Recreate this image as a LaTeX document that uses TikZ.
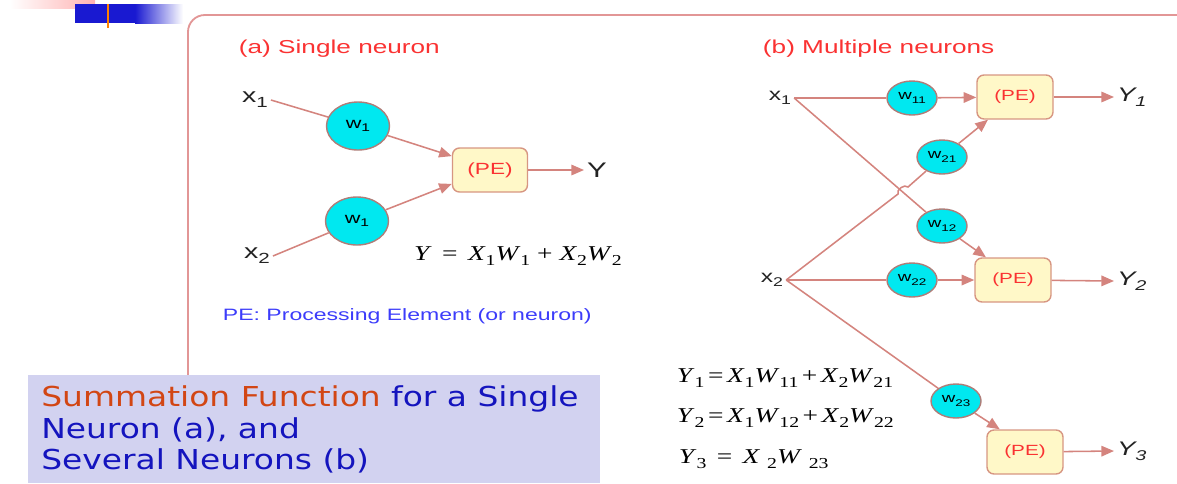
\documentclass[tikz,border=0pt]{standalone}
\usepackage{fontspec}
\setmainfont{Liberation Sans}[FakeStretch=1.4]
\newfontfamily\eqfont{Liberation Serif}[FakeStretch=1.3]
\newfontfamily\capfont{DejaVu Sans}[FakeStretch=1.2]
\usetikzlibrary{arrows.meta,shapes.geometric}

\definecolor{linkcol}{RGB}{212,132,126}
\definecolor{wfill}{RGB}{0,232,240}
\definecolor{wdraw}{RGB}{175,125,120}
\definecolor{pefill}{RGB}{255,248,200}
\definecolor{pedraw}{RGB}{215,150,130}
\definecolor{pered}{RGB}{250,50,50}
\definecolor{noteblue}{RGB}{60,60,250}
\definecolor{framecol}{RGB}{226,150,150}
\definecolor{capfill}{RGB}{210,210,240}
\definecolor{caporange}{RGB}{210,70,20}
\definecolor{capblue}{RGB}{20,20,190}
\definecolor{labcol}{RGB}{35,35,35}

\newcommand{\dn}[1]{\raisebox{-0.45ex}{\scalebox{0.72}{#1}}}
\newcommand{\ev}[2]{\textit{#1}\dn{#2}}

\begin{document}
\begin{tikzpicture}[x=0.025cm, y=-0.025cm,
    weight/.style={ellipse, draw=wdraw, line width=1pt, fill=wfill, inner sep=0pt,
        minimum width=1.25cm, minimum height=0.85cm, font=\fontsize{9.5}{11}\selectfont},
    bigweight/.style={weight, minimum width=1.575cm, minimum height=1.2cm,
        font=\fontsize{11}{13}\selectfont},
    pebox/.style={draw=pedraw, line width=1pt, fill=pefill, rounded corners=5pt,
        minimum width=1.9cm, minimum height=1.1cm, text=pered,
        font=\fontsize{10.5}{12}\selectfont},
    lab/.style={text=labcol, inner sep=2pt, font=\fontsize{12.5}{14}\selectfont},
    link/.style={draw=linkcol, line width=1.1pt},
    arc/.style={link, -{Triangle[length=9pt, width=7.5pt]}}]
    \useasboundingbox (0,0) rectangle (1177,483);

    % Slide decoration
    \shade[left color=white, right color=red!30] (10,0) rectangle (95,8);
    \fill[blue!80!black!90] (75,4) rectangle (135,23);
    \shade[left color=blue!80!black!90, right color=white] (135,4) rectangle (183,23);
    \draw[orange, line width=1.5pt] (108,4) -- (108,28);
    \draw[framecol, line width=1.3pt, rounded corners=12pt] (188,376) -- (188,15) -- (1190,15);

    % (a) single neuron
    \node[anchor=west, text=pered, font=\fontsize{13.3}{15}\selectfont] (titlea) at (234,49) {(a) Single neuron};
    \node[lab, font=\fontsize{14.5}{16}\selectfont] (xa1) at (255,100) {x\dn{1}};
    \node[lab, font=\fontsize{14.5}{16}\selectfont] (xa2) at (257,256) {x\dn{2}};
    \node[bigweight] (wa1) at (358,126) {w\dn{1}};
    \node[bigweight] (wa2) at (357,221) {w\dn{1}};
    \node[pebox, minimum width=1.875cm, font=\fontsize{11.5}{13}\selectfont] (pea) at (490,170) {(PE)};
    \node[lab, anchor=west, font=\fontsize{15}{17}\selectfont] (ya) at (584,170) {Y};

    \draw[link] (xa1.east) -- (wa1);
    \draw[link] (xa2.east) -- (wa2);
    \draw[arc] (wa1) -- (pea.160);
    \draw[arc] (wa2) -- (pea.200);
    \draw[arc] (pea) -- (ya.west);

    \node[font=\eqfont\fontsize{15}{17}\selectfont] (eqa) at (518,256)
        {\textit{Y} \,=\, \ev{X}{1}\ev{W}{1} + \ev{X}{2}\ev{W}{2}};
    \node[anchor=west, text=noteblue, font=\fontsize{11.7}{13}\selectfont] (note) at (218,316)
        {PE: Processing Element (or neuron)};

    % (b) multiple neurons
    \node[anchor=west, text=pered, font=\fontsize{13.3}{15}\selectfont] (titleb) at (758,49) {(b) Multiple neurons};
    \node[lab] (xb1) at (780,98) {x\dn{1}};
    \node[lab] (xb2) at (772,280) {x\dn{2}};
    \node[weight] (wb11) at (912,98) {w\dn{11}};
    \node[weight] (wb21) at (942,157) {w\dn{21}};
    \node[weight] (wb12) at (942,226) {w\dn{12}};
    \node[weight] (wb22) at (912,280) {w\dn{22}};
    \node[weight] (wb23) at (956,401) {w\dn{23}};
    \node[pebox] (pe1) at (1015,97) {(PE)};
    \node[pebox] (pe2) at (1013,280) {(PE)};
    \node[pebox] (pe3) at (1025,452) {(PE)};
    \node[lab, anchor=west, font=\fontsize{14}{16}\selectfont] (yb1) at (1114,97) {\textit{Y\dn{1}}};
    \node[lab, anchor=west, font=\fontsize{14}{16}\selectfont] (yb2) at (1114,281) {\textit{Y\dn{2}}};
    \node[lab, anchor=west, font=\fontsize{14}{16}\selectfont] (yb3) at (1114,451) {\textit{Y\dn{3}}};
    \coordinate (hopa) at (898,194);
    \coordinate (hopb) at (908,187);

    \draw[link] (xb1.east) -- (wb11);
    \draw[link] (xb1.east) -- (wb12);
    \draw[link] (xb2.east) -- (hopa) to[bend left=80] (hopb) -- (wb21);
    \draw[link] (xb2.east) -- (wb22);
    \draw[link] (xb2.east) -- (wb23);
    \draw[arc] (wb11) -- (pe1);
    \draw[arc] (wb21) -- (pe1.220);
    \draw[arc] (wb12) -- (pe2.140);
    \draw[arc] (wb22) -- (pe2);
    \draw[arc] (wb23) -- (pe3.138);
    \draw[arc] (pe1) -- (yb1.west);
    \draw[arc] (pe2) -- (yb2.west);
    \draw[arc] (pe3) -- (yb3.west);

    \node[anchor=west, font=\eqfont\fontsize{15}{17}\selectfont] (eqb1) at (672,378)
        {\textit{Y}\dn{1}\,=\,\ev{X}{1}\ev{W}{11}\,+\,\ev{X}{2}\ev{W}{21}};
    \node[anchor=west, font=\eqfont\fontsize{15}{17}\selectfont] (eqb2) at (672,418)
        {\textit{Y}\dn{2}\,=\,\ev{X}{1}\ev{W}{12}\,+\,\ev{X}{2}\ev{W}{22}};
    \node[anchor=west, font=\eqfont\fontsize{15}{17}\selectfont] (eqb3) at (674,459)
        {\textit{Y}\dn{3} \,=\, \textit{X} \dn{2}\textit{W} \dn{23}};

    % Caption
    \fill[capfill] (28,375) rectangle (600,483);
    \node[anchor=north west, align=left, text=capblue, inner sep=0pt,
        font=\capfont\fontsize{19.5}{22.7}\selectfont] (caption) at (41,385)
        {\textcolor{caporange}{Summation Function} for a Single\\Neuron (a), and\\Several Neurons (b)};
\end{tikzpicture}
\end{document}
